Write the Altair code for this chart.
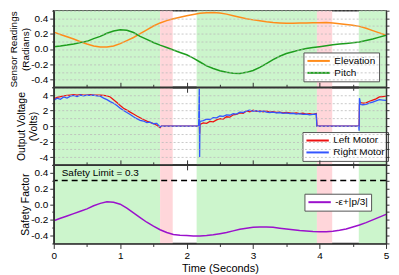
import altair as alt
import pandas as pd

FONT = "Liberation Sans"

# ---------------- data ----------------
band_start = [0.0, 1.6, 2.15, 3.96, 4.59]
band_end = [1.6, 1.79, 3.96, 4.19, 5.0]
band_kind = ["safe", "limit", "safe", "limit", "safe"]

sensor_t = [0.0, 0.1, 0.2, 0.3, 0.4, 0.5, 0.6, 0.7, 0.8, 0.9,
            1.0, 1.1, 1.2, 1.3, 1.4, 1.5, 1.6, 1.7, 1.8, 1.9,
            2.0, 2.1, 2.2, 2.3, 2.4, 2.5, 2.6, 2.7, 2.8, 2.9,
            3.0, 3.1, 3.2, 3.3, 3.4, 3.5, 3.6, 3.7, 3.8, 3.9,
            4.0, 4.1, 4.2, 4.3, 4.4, 4.5, 4.6, 4.7, 4.8, 4.9, 5.0]
elevation = [0.22, 0.19, 0.16, 0.13, 0.095, 0.065, 0.04, 0.025, 0.025, 0.04,
             0.07, 0.11, 0.15, 0.2, 0.25, 0.3, 0.34, 0.37, 0.395, 0.415,
             0.435, 0.45, 0.465, 0.473, 0.475, 0.47, 0.455, 0.435, 0.415, 0.395,
             0.38, 0.37, 0.355, 0.345, 0.34, 0.335, 0.335, 0.338, 0.34, 0.342,
             0.344, 0.345, 0.34, 0.33, 0.32, 0.31, 0.295, 0.27, 0.24, 0.21, 0.18]
pitch = [0.03, 0.04, 0.052, 0.066, 0.083, 0.10, 0.135, 0.165, 0.205, 0.235,
         0.25, 0.245, 0.215, 0.165, 0.125, 0.085, 0.05, 0.02, -0.013, -0.045,
         -0.076, -0.12, -0.17, -0.22, -0.255, -0.285, -0.305, -0.318, -0.32, -0.305,
         -0.28, -0.24, -0.19, -0.14, -0.095, -0.06, -0.035, -0.012, 0.005, 0.018,
         0.03, 0.042, 0.055, 0.065, 0.073, 0.08, 0.09, 0.11, 0.13, 0.155, 0.18]
safety = [-0.21, -0.18, -0.15, -0.12, -0.09, -0.06, -0.02, 0.01, 0.03, 0.025,
          0.0, -0.05, -0.11, -0.17, -0.23, -0.28, -0.325, -0.36, -0.385, -0.395,
          -0.40, -0.405, -0.405, -0.40, -0.39, -0.375, -0.36, -0.34, -0.32, -0.305,
          -0.295, -0.29, -0.29, -0.295, -0.305, -0.315, -0.325, -0.335, -0.342, -0.348,
          -0.35, -0.35, -0.345, -0.333, -0.315, -0.29, -0.265, -0.235, -0.2, -0.165, -0.13]

motor_t = [0.0, 0.05, 0.1, 0.15, 0.2, 0.25, 0.3, 0.35, 0.4, 0.45,
           0.5, 0.55, 0.6, 0.65, 0.7, 0.75, 0.8, 0.85, 0.9, 0.95,
           1.0, 1.05, 1.1, 1.15, 1.2, 1.25, 1.3, 1.35, 1.4, 1.45,
           1.5, 1.55, 1.6, 1.62, 2.18, 2.19, 2.195, 2.2,
           2.25, 2.3, 2.35, 2.4, 2.45, 2.5, 2.55, 2.6, 2.65, 2.7,
           2.75, 2.8, 2.85, 2.9, 2.95, 3.0, 3.05, 3.1, 3.15, 3.2,
           3.25, 3.3, 3.35, 3.4, 3.45, 3.5, 3.55, 3.6, 3.65, 3.7,
           3.75, 3.8, 3.85, 3.9, 3.95, 3.96, 4.59, 4.595, 4.6, 4.62,
           4.65, 4.7, 4.75, 4.8, 4.85, 4.9, 4.95, 5.0]
left_motor = [3.5, 3.7, 3.8, 3.9, 3.95, 4.0, 4.05, 4.0, 4.05, 4.0,
              4.0, 4.05, 4.0, 4.0, 4.0, 3.95, 3.9, 3.75, 3.4, 3.05,
              2.65, 2.3, 2.05, 1.8, 1.55, 1.3, 1.08, 0.85, 0.65, 0.48,
              0.33, 0.1, -0.2, 0.0, 0.0, 0.5, -1.0, 0.2,
              0.4, 0.35, 0.6, 0.55, 0.8, 0.95, 0.9, 1.2, 1.15, 1.45,
              1.5, 1.7, 1.65, 1.95, 1.85, 2.05, 1.9, 1.95, 1.85, 1.95,
              1.8, 1.85, 1.75, 1.8, 1.7, 1.75, 1.7, 1.65, 1.7, 1.6,
              1.65, 1.55, 1.6, 1.5, 1.6, 0.0, 0.0, 0.0, 2.8, 3.0,
              2.95, 3.0, 3.2, 3.35, 3.5, 3.75, 3.8, 3.85]
right_motor = [3.3, 3.6, 3.45, 3.75, 3.6, 3.85, 3.95, 3.8, 4.0, 3.9,
               4.0, 3.95, 4.0, 3.9, 3.85, 3.6, 3.4, 3.15, 2.95, 2.65,
               2.3, 2.0, 1.75, 1.5, 1.2, 0.95, 0.75, 0.65, 0.45, 0.5,
               0.3, 0.35, -0.1, 0.0, 0.0, 4.8, -4.0, 0.6,
               0.7, 0.9, 0.85, 1.1, 1.05, 1.3, 1.25, 1.45, 1.4, 1.6,
               1.55, 1.8, 1.75, 1.95, 2.05, 1.9, 2.0, 1.85, 1.95, 1.8,
               1.75, 1.8, 1.7, 1.75, 1.65, 1.7, 1.6, 1.65, 1.55, 1.6,
               1.5, 1.55, 1.45, 1.5, 1.55, 0.0, 0.0, -0.6, 3.6, 2.8,
               2.75, 2.8, 2.95, 3.1, 3.25, 3.4, 3.35, 3.3]

safety_limit = 0.3
limit_label = "Safety Limit = 0.3"
limit_label_t = 0.12

sensor_names = ["Elevation", "Pitch"]
motor_names = ["Left Motor", "Right Motor"]
safety_name = "-ε+|p/3|"

x_ticks = [0, 0.5, 1, 1.5, 2, 2.5, 3, 3.5, 4, 4.5, 5]
rad_ticks = [-0.5, -0.4, -0.3, -0.2, -0.1, 0.0, 0.1, 0.2, 0.3, 0.4, 0.5]
volt_ticks = [-5, -4, -3, -2, -1, 0, 1, 2, 3, 4, 5]

# ---------------- frames ----------------
bands = pd.DataFrame({"t0": band_start, "t1": band_end, "kind": band_kind})
sensors = pd.DataFrame({"t": sensor_t, "Elevation": elevation, "Pitch": pitch,
                        "safety": safety})
motors = pd.DataFrame({"t": motor_t, "Left Motor": left_motor, "Right Motor": right_motor})
limit_df = pd.DataFrame({"limit": [safety_limit], "t": [limit_label_t], "label": [limit_label]})

W = 334
H1, H2, H3 = 77, 78, 79
DARK = "#333333"

xscale = alt.Scale(domain=[0, 5], nice=False, zero=False)
rad_scale = alt.Scale(domain=[-0.5, 0.5], nice=False, zero=False)
volt_scale = alt.Scale(domain=[-5, 5], nice=False, zero=False)

RAD_TEST = "abs(datum.value) < 0.45 && abs(round(datum.value * 10)) % 2 == 0"
VOLT_TEST = "abs(datum.value) < 4.5 && abs(round(datum.value)) % 2 == 0"
X_TEST = "abs(datum.value - round(datum.value)) < 0.01"


def y_left(title, values, test, fmt, grid, title_size=10.5):
    return alt.Axis(title=title, values=values, format=fmt,
                    labelExpr="(" + test + ") ? replace(datum.label, '\u2212', '-') : ''",
                    tickSize={"condition": {"test": test, "value": 4}, "value": 2},
                    grid=grid, gridDash=[2, 2], gridColor="#bbbbbb", gridWidth=0.8,
                    domainColor=DARK, domainWidth=1.5, tickColor=DARK, tickWidth=1,
                    zindex=1, labelFontSize=10, labelPadding=2, labelColor="black",
                    titleFontSize=title_size, titleFontWeight="normal", titleColor="black",
                    titlePadding=0, titleLineHeight=12.5)


def y_right(values):
    return alt.Axis(orient="right", values=values, labels=False, title=None, tickSize=3,
                    domainColor=DARK, domainWidth=1.5, tickColor=DARK, grid=False, zindex=1)


def x_axis(orient, labels, title=None):
    kw = {}
    if labels:
        kw["labelExpr"] = "(" + X_TEST + ") ? datum.label : ''"
        kw["format"] = ".0f"
    return alt.Axis(orient=orient, values=x_ticks, labels=labels, title=title,
                    tickSize={"condition": {"test": X_TEST, "value": 5}, "value": 3},
                    domainColor=DARK, domainWidth=1.5, tickColor=DARK, grid=False, zindex=1,
                    labelFontSize=10, labelPadding=2, labelColor="black", labelFlush=False,
                    titleFontSize=11, titleFontWeight="normal", titleColor="black",
                    titlePadding=2, **kw)


def legend(x, y):
    return alt.Legend(orient="none", legendX=x, legendY=y, title=None,
                      strokeColor="#555555", fillColor="white", padding=3,
                      symbolType="M-1,0H4", symbolSize=81, symbolStrokeWidth=2,
                      labelFontSize=10, labelColor="black", rowPadding=1,
                      labelOffset=17, cornerRadius=0, offset=0)


def band_layer():
    return alt.Chart(bands).mark_rect().encode(
        x=alt.X("t0:Q", scale=xscale, axis=None),
        x2="t1:Q",
        fill=alt.Fill("kind:N", scale=alt.Scale(domain=["safe", "limit"],
                                               range=["#ccf5cc", "#ffd6da"]), legend=None),
    )


# ---------------- panel 1 ----------------
p1_lines = alt.Chart(sensors).transform_fold(sensor_names, as_=["series", "value"]).mark_line(
    strokeWidth=1.5).encode(
    x=alt.X("t:Q", scale=xscale, axis=x_axis("bottom", False)),
    y=alt.Y("value:Q", scale=rad_scale,
            axis=y_left(["Sensor Readings", "(Radians)"], rad_ticks, RAD_TEST, ".1f", True,
                        title_size=10)),
    color=alt.Color("series:N", scale=alt.Scale(domain=sensor_names, range=["#ff8c1a", "#1e9e1e"]),
                    legend=legend(251, 42)),
)
p1_frame = alt.Chart(sensors).mark_line(opacity=0).encode(
    x=alt.X("t:Q", scale=xscale, axis=None),
    y=alt.Y("Elevation:Q", scale=rad_scale, axis=y_right(rad_ticks)),
)
p1 = alt.layer(band_layer(), p1_lines, p1_frame).resolve_axis(
    x="independent", y="independent").properties(width=W, height=H1)

# ---------------- panel 2 ----------------
p2_lines = alt.Chart(motors).transform_fold(motor_names, as_=["series", "value"]).mark_line(
    strokeWidth=1.3).encode(
    x=alt.X("t:Q", scale=xscale, axis=x_axis("bottom", False)),
    y=alt.Y("value:Q", scale=volt_scale,
            axis=y_left(["Output Voltage", "(Volts)"], volt_ticks, VOLT_TEST, "d", True)),
    color=alt.Color("series:N", scale=alt.Scale(domain=motor_names, range=["#ee1111", "#3355ff"]),
                    legend=legend(250, 45)),
)
p2_frame = alt.Chart(motors).mark_line(opacity=0).encode(
    x=alt.X("t:Q", scale=xscale, axis=x_axis("top", False)),
    y=alt.Y("Left Motor:Q", scale=volt_scale, axis=y_right(volt_ticks)),
)
p2 = alt.layer(band_layer(), p2_lines, p2_frame).resolve_axis(
    x="independent", y="independent").properties(width=W, height=H2)

# ---------------- panel 3 ----------------
p3_line = alt.Chart(sensors).transform_calculate(series="'" + safety_name + "'").mark_line(
    strokeWidth=1.5).encode(
    x=alt.X("t:Q", scale=xscale, axis=x_axis("bottom", True, "Time (Seconds)")),
    y=alt.Y("safety:Q", scale=rad_scale,
            axis=y_left("Safety Factor", rad_ticks, RAD_TEST, ".1f", False)),
    color=alt.Color("series:N", scale=alt.Scale(domain=[safety_name], range=["#9b11cc"]),
                    legend=legend(252, 29)),
)
p3_rule = alt.Chart(limit_df).mark_rule(color="black", strokeWidth=1.5, strokeDash=[6, 4]).encode(
    y=alt.Y("limit:Q", scale=rad_scale, axis=None),
)
p3_text = alt.Chart(limit_df).mark_text(align="left", baseline="bottom", dy=-3, fontSize=10,
                                        color="black").encode(
    x=alt.X("t:Q", scale=xscale, axis=None),
    y=alt.Y("limit:Q", scale=rad_scale, axis=None),
    text="label:N",
)
p3_frame = alt.Chart(sensors).mark_line(opacity=0).encode(
    x=alt.X("t:Q", scale=xscale, axis=x_axis("top", False)),
    y=alt.Y("safety:Q", scale=rad_scale, axis=y_right(rad_ticks)),
)
p3 = alt.layer(band_layer(), p3_rule, p3_text, p3_line, p3_frame).resolve_axis(
    x="independent", y="independent").properties(width=W, height=H3)

chart = alt.vconcat(p1, p2, p3, spacing=0).properties(
    bounds="flush",
    padding={"left": -1, "top": 0, "right": 0, "bottom": 0},
).resolve_scale(color="independent").configure(
    font=FONT,
).configure_view(stroke=DARK, strokeWidth=1.5)

chart.save("out.html", embed_options={"renderer": "svg", "actions": False})
